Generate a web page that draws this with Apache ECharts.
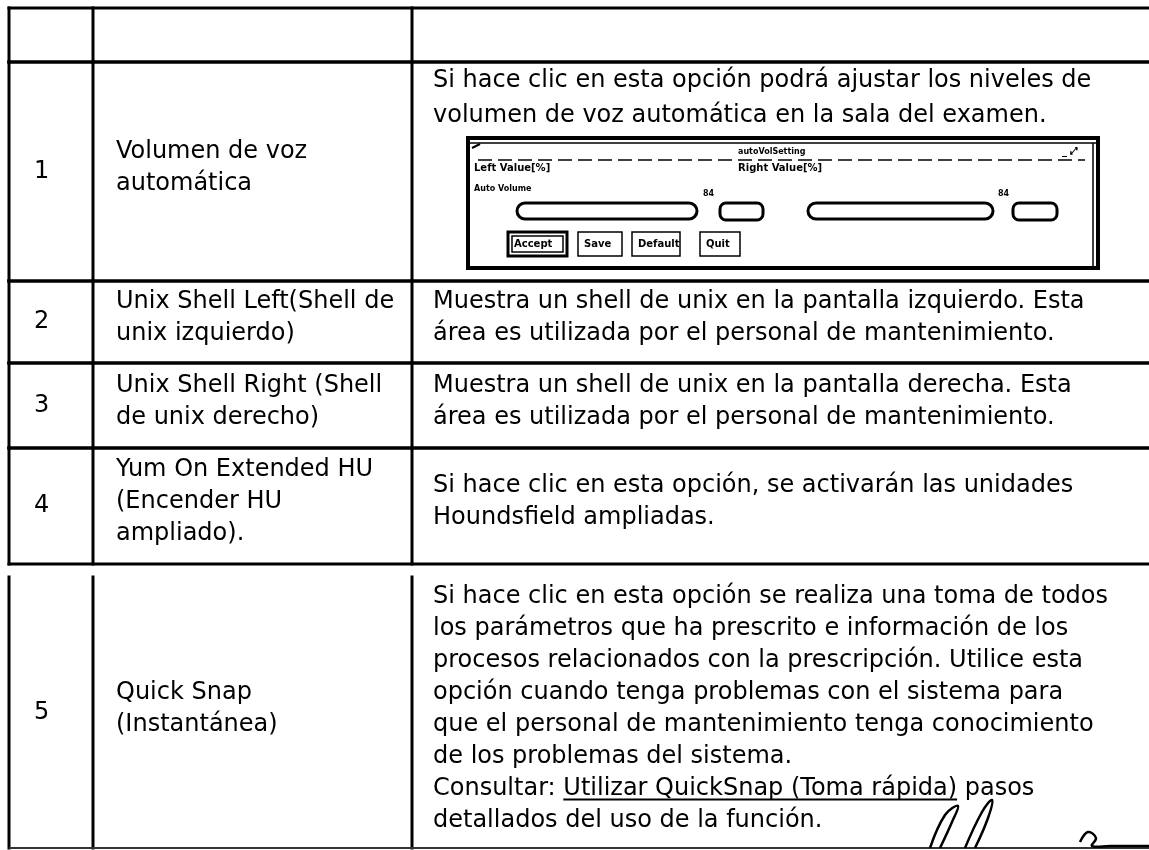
<!DOCTYPE html>
<html>
<head>
<meta charset="utf-8">
<script src="https://cdn.jsdelivr.net/npm/echarts@6/dist/echarts.min.js"></script>
<style>html,body{margin:0;padding:0;background:#fff}#c{width:1149px;height:850px}</style>
</head>
<body>
<div id="c"></div>
<script>
// ---- table content ----
const rowNumbers = ['', '1', '2', '3', '4', '5'];
const optionNames = [
  [],
  ['Volumen de voz', 'automática'],
  ['Unix Shell Left(Shell de', 'unix izquierdo)'],
  ['Unix Shell Right (Shell', 'de unix derecho)'],
  ['Yum On Extended HU', '(Encender HU', 'ampliado).'],
  ['Quick Snap', '(Instantánea)']
];
const descriptions = [
  [],
  ['Si hace clic en esta opción podrá ajustar los niveles de', 'volumen de voz automática en la sala del examen.'],
  ['Muestra un shell de unix en la pantalla izquierdo. Esta', 'área es utilizada por el personal de mantenimiento.'],
  ['Muestra un shell de unix en la pantalla derecha. Esta', 'área es utilizada por el personal de mantenimiento.'],
  ['Si hace clic en esta opción, se activarán las unidades', 'Houndsfield ampliadas.'],
  ['Si hace clic en esta opción se realiza una toma de todos',
   'los parámetros que ha prescrito e información de los',
   'procesos relacionados con la prescripción. Utilice esta',
   'opción cuando tenga problemas con el sistema para',
   'que el personal de mantenimiento tenga conocimiento',
   'de los problemas del sistema.',
   'Consultar: Utilizar QuickSnap (Toma rápida) pasos',
   'detallados del uso de la función.']
];
const linkPrefix = 'Consultar: ';
const linkText = 'Utilizar QuickSnap (Toma rápida)';
const dialogLabels = ['autoVolSetting', 'Left Value[%]', 'Right Value[%]', 'Auto Volume', '84', '84'];
const dialogButtons = ['Accept', 'Save', 'Default', 'Quit'];

// ---- layout (axis units = pixels of the page) ----
const colEdges = [9, 93, 412, 1165];
const rowBands = [[8, 62, true], [62, 281, true], [281, 363, true], [363, 448, true], [448, 564, true], [577, 848, false]];
const textPad = [25, 23, 21];
const lineH = 32;
const FONT = '"DejaVu Sans", "Liberation Sans", sans-serif';
const FS = 24;

const mctx = document.createElement('canvas').getContext('2d');
mctx.font = FS + 'px "DejaVu Sans"';
function tw(s) { return mctx.measureText(s).width; }

function renderRow(params, api) {
  const i = api.value(0);
  const [top, bottom, hasTop] = rowBands[i];
  const P = (x, y) => api.coord([x, y]);
  const children = [];
  const ls = { stroke: '#000', lineWidth: 3, lineCap: 'square' };
  colEdges.forEach(x => {
    const a = P(x, top), b = P(x, bottom);
    children.push({ type: 'line', shape: { x1: a[0], y1: a[1], x2: b[0], y2: b[1] }, style: ls });
  });
  const hl = (y, st) => {
    const a = P(colEdges[0], y), b = P(colEdges[colEdges.length - 1], y);
    children.push({ type: 'line', shape: { x1: a[0], y1: a[1], x2: b[0], y2: b[1] }, style: st || ls });
  };
  if (hasTop) hl(top);
  hl(bottom, i === rowBands.length - 1 ? { stroke: '#333', lineWidth: 2 } : ls);

  const txt = (x, y, s, extra) => children.push({
    type: 'text',
    style: Object.assign({ x: x, y: y, text: s, fill: '#000', fontSize: FS, fontFamily: FONT, verticalAlign: 'middle', align: 'left' }, extra || {})
  });
  const mid = (top + bottom) / 2 - 4;
  if (rowNumbers[i]) {
    const p = P(colEdges[0] + textPad[0], (top + bottom) / 2);
    txt(p[0], p[1], rowNumbers[i]);
  }
  const nm = optionNames[i];
  nm.forEach((s, k) => {
    const p = P(colEdges[1] + textPad[1], mid + (k - (nm.length - 1) / 2) * lineH);
    txt(p[0], p[1], s);
  });
  const ds = descriptions[i];
  ds.forEach((s, k) => {
    let y;
    if (i === 1) y = top + 19 + k * 35;
    else y = mid + (k - (ds.length - 1) / 2) * lineH;
    const p = P(colEdges[2] + textPad[2], y);
    txt(p[0], p[1], s);
    if (s.indexOf(linkText) >= 0) {
      const x0 = p[0] + tw(linkPrefix);
      const x1 = x0 + tw(linkText);
      children.push({ type: 'line', shape: { x1: x0, y1: p[1] + 11, x2: x1, y2: p[1] + 11 }, style: { stroke: '#000', lineWidth: 2 } });
    }
  });
  if (i === 1) children.push(drawDialog(P));
  if (i === rowBands.length - 1) children.push(drawSignature(P));
  return { type: 'group', children: children };
}

function drawDialog(P) {
  const g = [];
  const rect = (x1, y1, x2, y2, st, r) => {
    const a = P(x1, y1), b = P(x2, y2);
    g.push({ type: 'rect', shape: { x: a[0], y: a[1], width: b[0] - a[0], height: b[1] - a[1], r: r || 0 }, style: Object.assign({ fill: 'none', stroke: '#000', lineWidth: 2 }, st || {}) });
  };
  const line = (x1, y1, x2, y2, st) => {
    const a = P(x1, y1), b = P(x2, y2);
    g.push({ type: 'line', shape: { x1: a[0], y1: a[1], x2: b[0], y2: b[1] }, style: Object.assign({ stroke: '#000', lineWidth: 2 }, st || {}) });
  };
  const t = (x, y, s, fs) => {
    const a = P(x, y);
    g.push({ type: 'text', style: { x: a[0], y: a[1], text: s, fill: '#000', fontSize: fs, fontWeight: 'bold', fontFamily: FONT, verticalAlign: 'middle' } });
  };
  rect(468, 138, 1098, 268, { lineWidth: 4 });
  line(470, 143, 1096, 143, { lineWidth: 1.5 });
  line(1093, 143, 1093, 266, { lineWidth: 1.5 });
  line(478, 160, 1085, 160, { lineWidth: 1.5, lineDash: [14, 6] });
  t(738, 152, dialogLabels[0], 8);
  t(474, 168, dialogLabels[1], 10);
  t(738, 168, dialogLabels[2], 10);
  t(474, 189, dialogLabels[3], 8);
  line(472, 148, 480, 144, { lineWidth: 2 });
  t(1062, 151, '_ ⤢', 10);
  rect(517, 203, 697, 219, { lineWidth: 3 }, 8);
  t(703, 194, dialogLabels[4], 8);
  rect(720, 203, 763, 220, { lineWidth: 3 }, 6);
  rect(808, 203, 993, 219, { lineWidth: 3 }, 8);
  t(998, 194, dialogLabels[5], 8);
  rect(1013, 203, 1057, 220, { lineWidth: 3 }, 6);
  const bx = [[508, 567], [578, 622], [632, 680], [700, 740]];
  bx.forEach((b, k) => {
    rect(b[0], 232, b[1], 256, { lineWidth: k === 0 ? 3 : 1.5 });
    if (k === 0) rect(b[0] + 4, 236, b[1] - 4, 252, { lineWidth: 1.5 });
    t(b[0] + 6, 244, dialogButtons[k], 10);
  });
  return { type: 'group', children: g };
}

function drawSignature(P) {
  const strokes = [
    [[930, 848], [945, 815], [958, 806], [952, 822], [940, 848]],
    [[965, 848], [982, 812], [992, 800], [988, 818], [975, 848]],
    [[1080, 842], [1088, 832], [1096, 838], [1092, 846], [1110, 846], [1149, 846]]
  ];
  return {
    type: 'group',
    children: strokes.map(s => ({
      type: 'polyline',
      shape: { points: s.map(p => P(p[0], p[1])), smooth: 0.4 },
      style: { fill: 'none', stroke: '#000', lineWidth: 2.5 }
    }))
  };
}

const chart = echarts.init(document.getElementById('c'), null, { renderer: 'canvas' });
chart.setOption({
  backgroundColor: '#fff',
  animation: false,
  grid: { left: 0, right: 0, top: 0, bottom: 0 },
  xAxis: { type: 'value', min: 0, max: 1149, show: false },
  yAxis: { type: 'value', min: 0, max: 850, inverse: true, show: false },
  series: [{
    type: 'custom',
    clip: false,
    renderItem: renderRow,
    data: rowBands.map((r, i) => [i, 0]),
    silent: true
  }]
});
</script>
</body>
</html>
